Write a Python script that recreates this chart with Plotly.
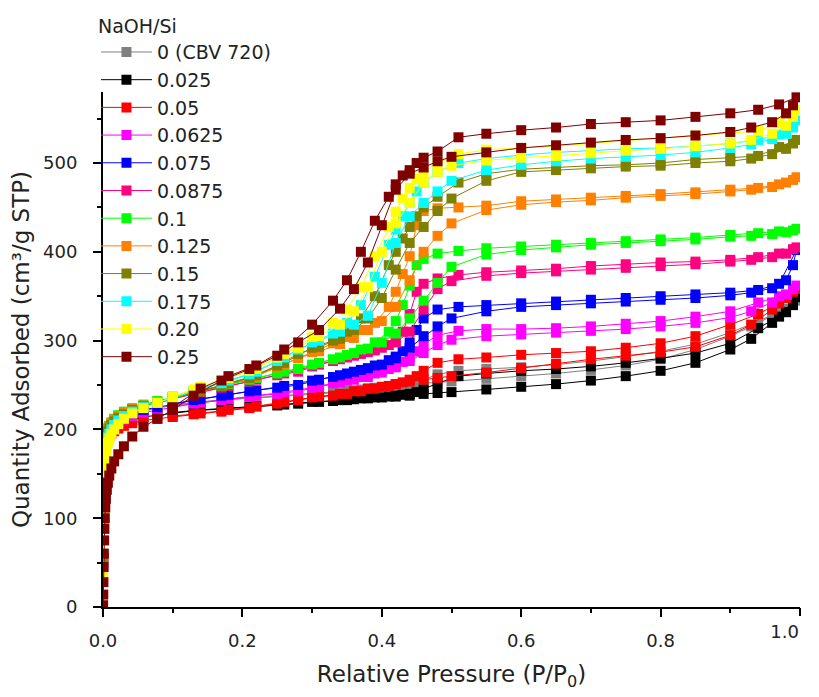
import plotly.graph_objects as go

# Relative pressure grids (adsorption branch, then desorption branch)
P_ADS = [0.0002, 0.0004, 0.0006, 0.0009, 0.0012, 0.0016, 0.002, 0.0026, 0.0033, 0.0042,
         0.0055, 0.007, 0.009, 0.012, 0.016, 0.022, 0.03, 0.042, 0.058, 0.078,
         0.1, 0.13, 0.17, 0.21, 0.25,
         0.28, 0.31, 0.34, 0.36, 0.38, 0.40, 0.42, 0.44, 0.46, 0.48, 0.50,
         0.55, 0.60, 0.65, 0.70, 0.75, 0.80, 0.85, 0.90, 0.93, 0.96, 0.98, 0.99]
P_DES = [0.995, 0.97, 0.94, 0.90, 0.85, 0.80, 0.75, 0.70, 0.65, 0.60, 0.55, 0.51,
         0.48, 0.46, 0.45, 0.44, 0.43, 0.42, 0.41, 0.39, 0.37, 0.35, 0.33, 0.30,
         0.26, 0.22, 0.18, 0.14, 0.10]

LABELS = ["0 (CBV 720)", "0.025", "0.05", "0.0625", "0.075", "0.0875",
          "0.1", "0.125", "0.15", "0.175", "0.20", "0.25"]
COLORS = ["#808080", "#000000", "#FF0000", "#FF00FF", "#0000FF", "#FF0080",
          "#00FF00", "#FF8000", "#808000", "#00FFFF", "#FFFF00", "#800000"]

ADS_000 = [60, 110, 140, 160, 170, 178, 183, 188, 192, 195, 198, 201, 203, 206, 209, 212, 215, 218, 221, 224,
           227, 230, 233, 235, 237,
           238, 240, 242, 244, 246, 247, 249, 250, 252, 253, 254, 257, 260, 263, 267, 272, 279, 290, 305, 316, 328, 336, 340]
DES_000 = [345, 332, 322, 309, 296, 288, 282, 277, 273, 270, 268, 266, 262, 256, 252, 251, 250, 249, 248, 247,
           245, 244, 242, 241, 238, 236, 234, 231, 228]

ADS_025 = [55, 100, 130, 150, 160, 168, 174, 179, 183, 187, 190, 193, 196, 199, 202, 205, 208, 211, 214, 216,
           218, 221, 223, 225, 227,
           229, 231, 233, 234, 235, 236, 237, 238, 240, 241, 242, 245, 248, 251, 255, 260, 266, 275, 290, 302, 320, 332, 340]
DES_025 = [349, 327, 314, 297, 286, 280, 275, 271, 268, 266, 263, 260, 252, 245, 242, 240, 239, 238, 237, 236,
           235, 233, 232, 231, 228, 226, 224, 222, 219]

ADS_050 = [50, 95, 125, 145, 155, 163, 169, 174, 178, 182, 186, 189, 192, 195, 198, 201, 204, 207, 210, 212,
           214, 217, 220, 224, 229,
           233, 237, 240, 243, 246, 248, 251, 254, 256, 258, 260, 264, 269, 274, 279, 283, 287, 293, 306, 318, 335, 348, 355]
DES_050 = [358, 342, 330, 318, 305, 297, 292, 288, 286, 284, 281, 279, 275, 266, 260, 256, 253, 251, 249, 246,
           243, 240, 238, 236, 231, 226, 222, 218, 215]

ADS_0625 = [55, 100, 130, 150, 160, 168, 174, 179, 183, 187, 191, 194, 197, 200, 203, 207, 211, 215, 219, 222,
            225, 229, 233, 237, 240,
            243, 248, 253, 256, 259, 264, 270, 277, 286, 295, 301, 305, 307, 309, 311, 313, 316, 320, 326, 333, 343, 352, 358]
DES_0625 = [362, 350, 343, 333, 327, 322, 319, 316, 314, 313, 313, 311, 306, 296, 288, 281, 276, 272, 268, 263,
            259, 255, 252, 247, 242, 238, 234, 230, 226]

ADS_075 = [55, 100, 132, 152, 162, 170, 176, 181, 185, 189, 193, 196, 199, 202, 206, 210, 214, 218, 222, 225,
           228, 233, 238, 243, 247,
           250, 256, 261, 265, 269, 273, 280, 292, 305, 316, 325, 333, 338, 340, 342, 344, 346, 348, 351, 354, 359, 368, 385]
DES_075 = [402, 364, 357, 354, 352, 350, 348, 346, 344, 342, 340, 338, 335, 325, 312, 298, 288, 282, 278, 272,
           267, 263, 259, 255, 249, 244, 239, 234, 229]

ADS_0875 = [55, 100, 132, 152, 163, 171, 177, 182, 186, 190, 194, 197, 200, 204, 208, 212, 216, 221, 226, 230,
            234, 240, 247, 254, 261,
            265, 273, 279, 283, 287, 292, 298, 310, 335, 358, 367, 373, 376, 378, 380, 382, 384, 386, 389, 391, 394, 398, 403]
DES_0875 = [405, 398, 394, 391, 389, 388, 386, 384, 381, 379, 377, 374, 370, 364, 355, 330, 310, 300, 295, 289,
            285, 281, 277, 271, 263, 256, 249, 242, 235]

ADS_100 = [60, 108, 138, 158, 168, 176, 182, 187, 191, 195, 198, 201, 204, 208, 212, 216, 220, 224, 228, 232,
           236, 242, 249, 256, 263,
           268, 275, 281, 286, 291, 298, 308, 325, 345, 365, 383, 397, 402, 405, 408, 410, 412, 414, 417, 418, 420, 422, 424]
DES_100 = [426, 423, 421, 419, 416, 414, 412, 410, 408, 406, 404, 401, 398, 392, 385, 362, 340, 322, 310, 298,
           290, 284, 279, 273, 265, 258, 251, 244, 237]

ADS_125 = [55, 105, 135, 155, 165, 173, 179, 184, 188, 192, 196, 199, 203, 207, 211, 215, 219, 223, 227, 231,
           235, 241, 249, 258, 270,
           280, 288, 296, 303, 312, 322, 338, 368, 400, 418, 432, 447, 453, 456, 458, 461, 463, 465, 468, 470, 473, 478, 481]
DES_125 = [484, 476, 472, 470, 467, 465, 463, 461, 459, 457, 452, 450, 449, 446, 430, 395, 375, 355, 338, 320,
           312, 304, 297, 287, 273, 260, 252, 243, 236]

ADS_150 = [50, 100, 130, 150, 162, 170, 176, 181, 186, 190, 194, 198, 201, 205, 209, 213, 217, 222, 226, 230,
           234, 241, 249, 258, 272,
           285, 293, 302, 312, 325, 348, 380, 410, 428, 446, 460, 480, 490, 492, 494, 496, 497, 500, 502, 505, 510, 516, 522]
DES_150 = [526, 518, 508, 506, 504, 500, 498, 497, 495, 493, 488, 478, 462, 450, 440, 428, 415, 400, 385, 350,
           325, 310, 300, 292, 275, 261, 252, 243, 235]

ADS_175 = [45, 90, 120, 140, 152, 160, 167, 173, 178, 183, 187, 191, 195, 200, 205, 210, 215, 220, 225, 230,
           235, 243, 252, 262, 277,
           290, 300, 310, 318, 328, 365, 410, 440, 455, 468, 480, 492, 498, 502, 505, 507, 509, 512, 517, 521, 527, 533, 540]
DES_175 = [548, 532, 526, 522, 519, 517, 516, 514, 512, 509, 505, 500, 490, 478, 468, 455, 440, 425, 408, 372,
           340, 320, 308, 298, 281, 265, 255, 246, 236]

ADS_200 = [35, 75, 105, 125, 138, 148, 156, 163, 169, 175, 180, 185, 190, 195, 200, 206, 212, 218, 224, 230,
           236, 245, 255, 266, 281,
           292, 305, 318, 333, 360, 400, 432, 455, 478, 490, 497, 503, 506, 508, 511, 514, 516, 519, 522, 526, 533, 542, 552]
DES_200 = [560, 545, 536, 534, 531, 528, 525, 522, 519, 517, 515, 510, 500, 490, 482, 472, 460, 445, 428, 395,
           360, 335, 320, 304, 285, 268, 258, 248, 237]

ADS_250 = [2, 14, 28, 45, 60, 75, 88, 100, 112, 122, 132, 140, 148, 156, 164, 172, 181, 192, 203, 212,
           222, 238, 255, 268, 283,
           298, 312, 336, 358, 388, 430, 470, 488, 495, 502, 507, 512, 517, 520, 523, 526, 528, 531, 535, 540, 546, 556, 565]
DES_250 = [574, 566, 560, 556, 552, 548, 546, 544, 540, 537, 533, 529, 513, 506, 500, 492, 486, 476, 462, 435,
           400, 368, 345, 318, 290, 272, 260, 246, 225]

ADS = [ADS_000, ADS_025, ADS_050, ADS_0625, ADS_075, ADS_0875,
       ADS_100, ADS_125, ADS_150, ADS_175, ADS_200, ADS_250]
DES = [DES_000, DES_025, DES_050, DES_0625, DES_075, DES_0875,
       DES_100, DES_125, DES_150, DES_175, DES_200, DES_250]

X_TICKS = [0.0, 0.2, 0.4, 0.6, 0.8]
X_TICK_TEXT = ["0.0", "0.2", "0.4", "0.6", "0.8"]
X_LAST_TICK = [1.0]
X_LAST_TEXT = ["1.0"]
Y_TICKS = [0, 100, 200, 300, 400, 500]

FONT = "DejaVu Sans, Liberation Sans, Arial, sans-serif"
TXT = "#222222"

fig = go.Figure()
for i, (lab, col, qa, qd) in enumerate(zip(LABELS, COLORS, ADS, DES)):
    fig.add_trace(go.Scatter(
        x=P_ADS + P_DES, y=qa + qd,
        mode="lines+markers", name=lab, legendgroup="g%d" % i,
        line=dict(color=col, width=1),
        marker=dict(symbol="square", size=10, color=col, line=dict(width=0)),
    ))

# empty helper trace so the overlay axis holding the last tick and label is drawn
fig.add_trace(go.Scatter(
    x=X_LAST_TICK, y=[None], xaxis="x2", yaxis="y", mode="markers",
    marker=dict(opacity=0), showlegend=False, hoverinfo="skip",
))

fig.update_layout(
    width=819, height=697,
    margin=dict(l=95, r=27, t=84, b=98, autoexpand=False),
    paper_bgcolor="white", plot_bgcolor="white",
    font=dict(family=FONT, size=18, color=TXT),
    showlegend=True,
    legend=dict(
        title=dict(text="NaOH/Si", font=dict(family=FONT, size=19, color=TXT)),
        font=dict(family=FONT, size=19, color=TXT),
        x=-0.0101, xanchor="left", y=0.805, yanchor="middle",
        bgcolor="rgba(0,0,0,0)", borderwidth=0,
        itemwidth=51, traceorder="grouped", tracegroupgap=0,
        itemclick=False,
    ),
    xaxis=dict(
        range=[0, 1], tickvals=X_TICKS, ticktext=X_TICK_TEXT,
        ticks="outside", ticklen=8, tickwidth=2, tickcolor="black",
        showline=True, linecolor="black", linewidth=2, mirror=False,
        showgrid=False, zeroline=False, ticklabelstandoff=8,
        tickfont=dict(family=FONT, size=18, color=TXT),
        minor=dict(dtick=0.1, ticks="outside", ticklen=4, tickwidth=2, tickcolor="black", showgrid=False),
        title=dict(text="Relative Pressure (P/P<sub>0</sub>)", font=dict(family=FONT, size=23, color=TXT), standoff=16),
    ),
    # overlay axis carrying the last major tick, its label drawn left of the tick as in the original
    xaxis2=dict(
        overlaying="x", anchor="y", side="bottom", range=[0, 1],
        tickvals=X_LAST_TICK, ticktext=X_LAST_TEXT,
        ticklabelposition="outside left", ticks="outside", ticklen=8, tickwidth=2, tickcolor="black",
        ticklabelstandoff=8,
        showline=False, showgrid=False, zeroline=False,
        tickfont=dict(family=FONT, size=18, color=TXT),
    ),
    yaxis=dict(
        range=[0, 580], tickvals=Y_TICKS,
        ticks="outside", ticklen=8, tickwidth=2, tickcolor="black",
        showline=True, linecolor="black", linewidth=2, mirror=False,
        showgrid=False, zeroline=False, ticklabelstandoff=12,
        tickfont=dict(family=FONT, size=18, color=TXT),
        minor=dict(dtick=50, ticks="outside", ticklen=4, tickwidth=2, tickcolor="black", showgrid=False),
        title=dict(text="Quantity Adsorbed (cm³/g STP)", font=dict(family=FONT, size=23, color=TXT), standoff=10),
    ),
)

fig.write_html("out.html")
